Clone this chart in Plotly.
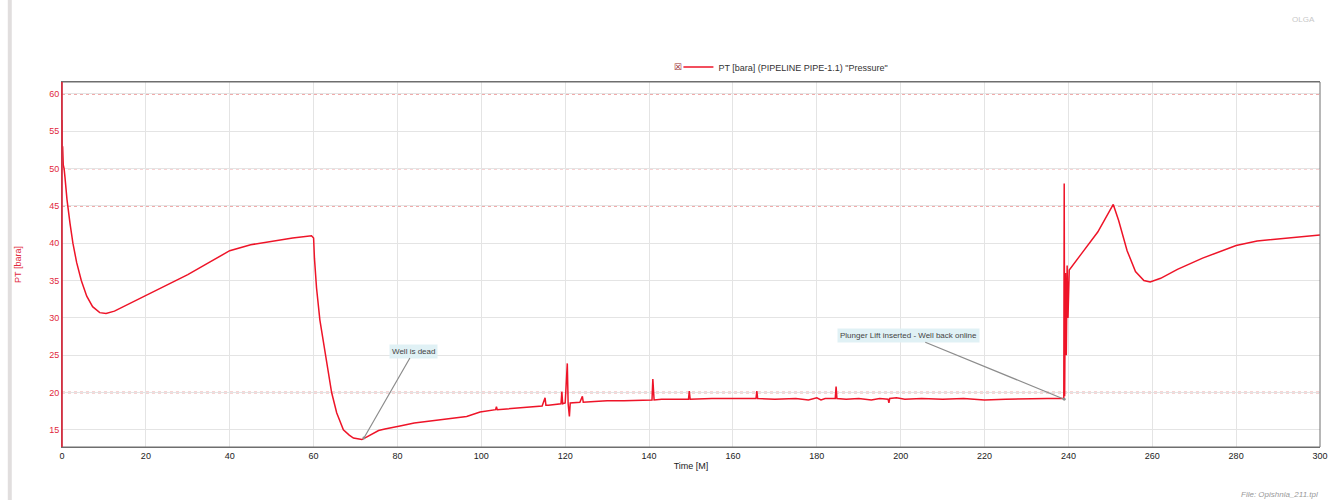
import plotly.graph_objects as go

# ---- data ----
time_min = [0.0, 0.05, 0.15, 0.3, 0.5, 0.7, 1.2, 1.9, 2.6, 3.5, 4.6, 5.9, 7.3, 9.0, 10.5, 12.5, 15, 20, 25, 30, 35, 40,
            45, 50, 55, 59.5, 60.0, 60.2, 60.4, 60.7, 61.5, 62.8, 64.3, 65.5, 67.1, 68.5, 69.5, 70.5, 71.5, 72.5,
            73.9, 75.5, 77, 78.5, 80.6, 84, 88, 92, 96.5, 99.7, 102, 103.4, 103.6, 103.8, 106, 110, 114.5,
            115.2, 115.4, 116, 118, 119.0, 119.2, 119.4, 120.0, 120.5, 120.7, 121.0, 121.2, 121.5, 123.5,
            124.1, 124.3, 127, 130, 134, 138, 140.7, 140.9, 141.2, 143, 146, 149.4, 149.6, 149.8, 155, 160,
            165.5, 165.7, 165.9, 170, 175, 178, 180, 181, 182, 184.4, 184.6, 184.8, 187, 190, 193, 195,
            197.0, 197.2, 197.4, 199, 201, 205, 210, 215, 220, 225, 230, 235, 238.9, 239.0, 239.1, 239.3,
            239.5, 239.7, 239.9, 240.2, 243, 247, 250.7, 252, 254, 256, 258, 259.5, 262, 266, 272, 280, 285,
            290, 295, 300]
pressure_bara = [56.5, 52.0, 53.0, 50.5, 50.0, 48.9, 45.8, 42.7, 40.0, 37.4, 35.0, 32.9, 31.5, 30.7, 30.6, 30.9,
                 31.6, 32.9, 34.3, 35.8, 37.4, 39.0, 39.8, 40.3, 40.7, 41.0, 40.7, 38.0, 36.5, 34.0, 29.7, 25.0,
                 20.0, 17.3, 15.0, 14.3, 13.9, 13.8, 13.7, 14.0, 14.4, 14.9, 15.1, 15.3, 15.5, 15.9, 16.2, 16.5,
                 16.8, 17.4, 17.6, 17.7, 18.1, 17.7, 17.8, 18.0, 18.2, 19.3, 18.3, 18.3, 18.4, 18.5, 20.1, 18.5,
                 18.6, 23.9, 18.5, 16.8, 18.6, 18.6, 18.7, 19.5, 18.7, 18.8, 18.9, 18.9, 19.0, 19.0, 21.8, 19.0,
                 19.1, 19.1, 19.1, 20.2, 19.1, 19.2, 19.2, 19.2, 20.2, 19.2, 19.1, 19.2, 19.0, 19.3, 19.0, 19.2,
                 19.2, 20.8, 19.2, 19.1, 19.2, 19.0, 19.2, 19.1, 18.6, 19.2, 19.3, 19.1, 19.2, 19.1, 19.2, 19.0,
                 19.1, 19.2, 19.2, 19.2, 48.0, 19.5, 36.0, 25.0, 37.0, 30.0, 36.4, 38.5, 41.5, 45.2, 43.0, 39.0,
                 36.2, 35.0, 34.8, 35.3, 36.5, 38.0, 39.7, 40.3, 40.6, 40.9, 41.1]

x_ticks = [0, 20, 40, 60, 80, 100, 120, 140, 160, 180, 200, 220, 240, 260, 280, 300]
y_ticks = [15, 20, 25, 30, 35, 40, 45, 50, 55, 60]
red_grid_levels = [60, 50, 45, 20]

series_name = 'PT [bara] (PIPELINE PIPE-1.1) "Pressure"'
font_family = "Liberation Sans, Arial, sans-serif"

fig = go.Figure()
fig.add_trace(go.Scatter(
    x=time_min, y=pressure_bara, mode="lines", name=series_name,
    line=dict(color="rgb(238,20,40)", width=1.5),
    showlegend=True,
))

for lvl in red_grid_levels:
    fig.add_shape(type="line", xref="paper", x0=0, x1=1, yref="y", y0=lvl, y1=lvl,
                  line=dict(color="rgba(220,60,60,0.85)", width=1.3, dash="dot"), layer="between")

# left panel border bar
fig.add_shape(type="line", xref="paper", yref="paper", x0=-0.0415, x1=-0.0415, y0=-0.15, y1=1.23,
              line=dict(color="rgb(225,222,222)", width=4))

fig.update_layout(
    width=1340, height=500,
    margin=dict(l=62, r=20, t=82, b=53),
    paper_bgcolor="white", plot_bgcolor="white",
    font=dict(family=font_family, size=9, color="#333"),
    xaxis=dict(
        range=[0, 300], tickvals=x_ticks, ticktext=[str(v) for v in x_ticks],
        showgrid=True, gridcolor="rgb(228,228,228)", gridwidth=1,
        showline=True, linecolor="rgb(110,110,110)", linewidth=1, mirror=True,
        ticks="", tickfont=dict(size=9, color="#222"),
        title=dict(text="Time [M]", font=dict(size=9, color="#222"), standoff=2),
        zeroline=False,
    ),
    yaxis=dict(
        range=[12.7, 61.6], tickvals=y_ticks, ticktext=[str(v) for v in y_ticks],
        showgrid=True, gridcolor="rgb(228,228,228)", gridwidth=1,
        showline=True, linecolor="rgb(225,40,60)", linewidth=1, mirror=False,
        ticks="", tickfont=dict(size=9, color="rgb(225,40,60)"),
        title=dict(text="PT [bara]", font=dict(size=9, color="rgb(225,40,60)"), standoff=26),
        zeroline=False,
    ),
    legend=dict(orientation="h", x=0.49, xanchor="left", y=1.041, yanchor="middle",
                font=dict(size=9, color="#333"), bgcolor="rgba(0,0,0,0)", itemwidth=30),
    annotations=[
        dict(x=72, y=13.9, xref="x", yref="y", text="Well is dead", showarrow=True,
             ax=50, ay=-87, arrowhead=6, arrowsize=0.6, arrowwidth=1.2, arrowcolor="rgb(140,140,140)",
             bgcolor="rgba(222,240,244,0.95)", font=dict(size=8, color="#444"), borderpad=2),
        dict(x=239, y=19.1, xref="x", yref="y", text="Plunger Lift inserted - Well back online", showarrow=True,
             ax=-156, ay=-64, arrowhead=6, arrowsize=0.6, arrowwidth=1.2, arrowcolor="rgb(140,140,140)",
             bgcolor="rgba(222,240,244,0.95)", font=dict(size=8, color="#444"), borderpad=2),
        dict(x=1.0, y=-0.129, xref="paper", yref="paper", text="<i>File: Opishnia_211.tpl</i>",
             showarrow=False, xanchor="right", yanchor="middle", font=dict(size=8, color="#999")),
        dict(x=0.998, y=1.17, xref="paper", yref="paper", text="OLGA", showarrow=False,
             xanchor="right", yanchor="middle", font=dict(size=8, color="#c8c8c8")),
        dict(x=0.4945, y=1.041, xref="paper", yref="paper", text="☒", showarrow=False,
             xanchor="right", yanchor="middle", font=dict(size=9, color="rgb(150,30,40)")),
    ],
)

# right/top border of the plot area
fig.add_shape(type="rect", xref="paper", yref="paper", x0=0, x1=1, y0=0, y1=1,
              line=dict(color="rgb(110,110,110)", width=1), layer="above")
fig.add_shape(type="line", xref="paper", yref="paper", x0=0, x1=0, y0=0, y1=1,
              line=dict(color="rgb(225,40,60)", width=1.5), layer="above")

fig.write_html("out.html")
